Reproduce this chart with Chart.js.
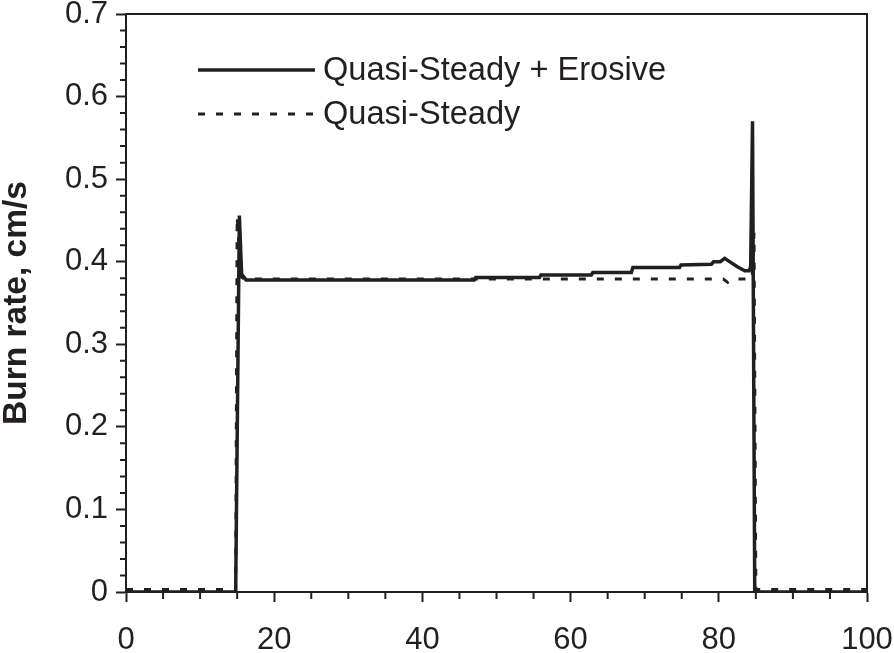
<!DOCTYPE html>
<html><head><meta charset="utf-8">
<script src="https://cdn.jsdelivr.net/npm/chart.js@4.4.1/dist/chart.umd.min.js"></script>
<style>html,body{margin:0;padding:0;background:#fff;} #wrap{width:894px;height:653px;}</style>
</head><body><div id="wrap"><canvas id="c" width="894" height="653"></canvas></div>
<script>
// ---- data ----
const seriesLabels = ['Quasi-Steady + Erosive', 'Quasi-Steady'];
const yAxisTitle = 'Burn rate, cm/s';
const erosiveX = [0, 14.8, 15.3, 15.6, 16.2, 47.0, 47.2, 55.8, 56.0, 62.8, 63.0, 68.2, 68.4, 74.7, 74.9, 79.0, 79.3, 80.2, 80.8, 81.3, 82.5, 83.5, 84.1, 84.3, 84.55, 84.85, 100];
const erosiveY = [0, 0, 0.456, 0.385, 0.378, 0.378, 0.381, 0.381, 0.384, 0.384, 0.387, 0.387, 0.393, 0.393, 0.396, 0.397, 0.400, 0.400, 0.404, 0.401, 0.394, 0.389, 0.389, 0.394, 0.570, 0, 0];
const steadyX = [0, 14.8, 15.0, 15.5, 16.0, 80.6, 81.2, 81.7, 84.5, 84.75, 85.0, 100];
const steadyY = [0.003, 0.003, 0.455, 0.382, 0.379, 0.379, 0.375, 0.379, 0.379, 0.435, 0.003, 0.003];
const xMajorTicks = [0, 20, 40, 60, 80, 100];
const xMinorTicks = [5, 10, 15, 25, 30, 35, 45, 50, 55, 65, 70, 75, 85, 90, 95];
const yMinorTicks = [0.02,0.04,0.06,0.08,0.12,0.14,0.16,0.18,0.22,0.24,0.26,0.28,0.32,0.34,0.36,0.38,0.42,0.44,0.46,0.48,0.52,0.54,0.56,0.58,0.62,0.64,0.66,0.68];

const INK = '#231f20';
const FONT = "'Liberation Sans', Arial, Helvetica, sans-serif";
const toPts = (xs, ys) => xs.map((x, i) => ({x, y: ys[i]}));

const framePlugin = {
  id: 'frameAndMinor',
  afterDraw(chart) {
    const {ctx, chartArea: a, scales: {x, y}} = chart;
    ctx.save();
    ctx.strokeStyle = INK;
    ctx.lineWidth = 2;
    ctx.beginPath();
    ctx.moveTo(a.left, a.top); ctx.lineTo(a.right, a.top); ctx.lineTo(a.right, a.bottom);
    ctx.stroke();
    ctx.beginPath();
    xMinorTicks.forEach(v => { const px = x.getPixelForValue(v); ctx.moveTo(px, a.bottom); ctx.lineTo(px, a.bottom + 7); });
    yMinorTicks.forEach(v => { const py = y.getPixelForValue(v); ctx.moveTo(a.left - 6, py); ctx.lineTo(a.left, py); });
    ctx.stroke();
    // legend
    const lx = a.left + 72, lw = 117, tx = lx + 125;
    const rows = [70, 114];
    chart.data.datasets.forEach((ds, i) => {
      ctx.beginPath();
      ctx.lineWidth = ds.borderWidth;
      ctx.setLineDash(ds.borderDash || []);
      ctx.strokeStyle = ds.borderColor;
      ctx.moveTo(lx, rows[i]); ctx.lineTo(lx + lw, rows[i]);
      ctx.stroke();
      ctx.setLineDash([]);
      ctx.fillStyle = INK;
      ctx.font = '32.6px ' + FONT;
      ctx.textBaseline = 'middle';
      ctx.textAlign = 'left';
      ctx.fillText(ds.label, tx, rows[i] + 1);
    });
    ctx.restore();
  }
};

new Chart(document.getElementById('c'), {
  type: 'line',
  data: {
    datasets: [
      {label: seriesLabels[0], data: toPts(erosiveX, erosiveY), borderColor: INK, borderWidth: 3.5, pointRadius: 0, tension: 0, fill: false},
      {label: seriesLabels[1], data: toPts(steadyX, steadyY), borderColor: INK, borderWidth: 3, borderDash: [7, 11], pointRadius: 0, tension: 0, fill: false}
    ]
  },
  options: {
    responsive: false,
    devicePixelRatio: 1,
    animation: false,
    layout: {padding: {left: 0, top: 14, right: 27, bottom: 0}},
    plugins: {legend: {display: false}, tooltip: {enabled: false}},
    scales: {
      x: {
        type: 'linear', min: 0, max: 100,
        afterBuildTicks: s => { s.ticks = xMajorTicks.map(v => ({value: v})); },
        ticks: {color: INK, font: {size: 31, family: FONT}, padding: 20, maxRotation: 0, autoSkip: false},
        grid: {drawOnChartArea: false, drawTicks: true, tickLength: 10, tickWidth: 2, tickColor: INK},
        border: {display: true, width: 2, color: INK},
        afterFit: s => { s.height = 61; s.paddingLeft = 0; s.paddingRight = 0; }
      },
      y: {
        type: 'linear', min: 0, max: 0.7,
        ticks: {stepSize: 0.1, color: INK, font: {size: 31, family: FONT}, padding: 8,
          callback: v => (Math.abs(v) < 1e-9 ? '0' : v.toFixed(1))},
        grid: {drawOnChartArea: false, drawTicks: true, tickLength: 10, tickWidth: 2, tickColor: INK},
        border: {display: true, width: 2, color: INK},
        title: {display: true, text: yAxisTitle, color: INK, font: {size: 33.5, weight: 'bold', family: FONT, lineHeight: 1}, padding: {top: 0, bottom: 0}},
        afterFit: s => { s.width = 126; s.paddingTop = 0; s.paddingBottom = 0; }
      }
    }
  },
  plugins: [framePlugin]
});
</script>
</body></html>
